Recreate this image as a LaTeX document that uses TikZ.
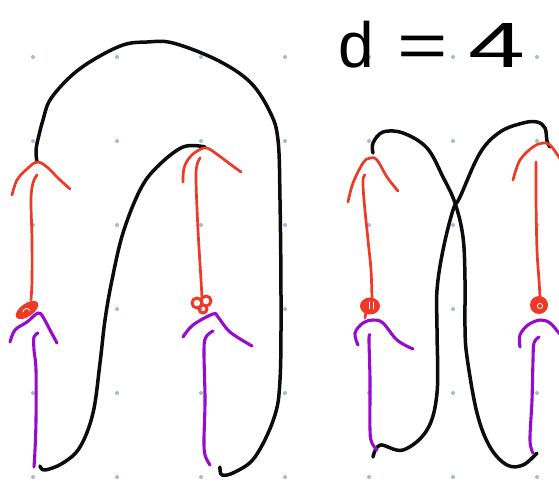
\documentclass[tikz,border=0pt]{standalone}
\usepackage{graphicx}
\usepackage{fontspec}
\setmainfont{Liberation Sans}
\definecolor{ink}{RGB}{12,12,12}
\definecolor{redink}{RGB}{236,58,38}
\definecolor{purpink}{RGB}{150,12,205}
\definecolor{dotc}{RGB}{168,184,216}
\begin{document}
\begin{tikzpicture}[x=1pt,y=-1pt,line cap=round,line join=round,
  blk/.style={draw=ink,line width=3.5pt},
  redl/.style={draw=redink,line width=2.7pt},
  purl/.style={draw=purpink,line width=3.1pt},
  sm/.style={smooth,tension=0.6}]
\useasboundingbox (0,0) rectangle (559,483);
\fill[white] (0,0) rectangle (559,483);
% grid dots
\foreach \x in {33,117,...,537}
  \foreach \y in {57,141,...,477}
    \fill[dotc] (\x,\y) circle (2pt);
% ---------- left figure: black arcs ----------
\draw[blk] plot[sm] coordinates {(37,162) (36,150) (39,135) (43,120) (50,100) (70,77) (93,60) (123,45) (147,42) (173,43) (217,60) (250,82) (270,112) (278,140) (280,200) (281,300) (280,380) (274,418) (255,457) (235,472) (222,475) (220,467)};
\draw[blk] plot[sm] coordinates {(40,466) (45,470) (63,463) (80,447) (93,413) (100,363) (105,320) (112,280) (123,233) (140,190) (157,167) (183,147) (205,147)};
% red arrows left
\draw[redl] plot[sm] coordinates {(12,195) (17,180) (27,169) (37,162) (47,167) (58,178) (70,189)};
\draw[redl] plot[sm] coordinates {(37,175) (33,183) (31,200) (32,240) (32,280) (31,300)};
\fill[redink,rotate around={35:(27,310)}] (27,310) ellipse (13pt and 6.5pt);
\draw[white,line width=0.8pt] (23,312) arc (180:20:3.5pt);
\draw[redl,line width=3pt] (197,303) circle (5pt) (206,301) circle (5pt) (203,309) circle (4pt);
\draw[redl] plot[sm] coordinates {(183,182) (184,168) (190,157) (199,150) (207,148) (218,155) (230,164) (241,172)};
\draw[redl] plot[sm] coordinates {(200,158) (197,165) (196,180) (198,230) (201,280) (202,298)};
% purple arrows left
\draw[purl] plot[sm] coordinates {(10,342) (15,330) (27,322) (38,313) (43,317) (50,330) (57,343)};
\draw[purl] plot[sm] coordinates {(38,333) (34,337) (34,350) (36,370) (36,420) (35,450) (34,467)};
\draw[purl] plot[sm] coordinates {(183,337) (193,325) (213,314) (218,317) (230,332) (252,346)};
\draw[purl] plot[sm] coordinates {(213,331) (206,337) (204,350) (205,400) (204,440) (205,455) (210,465)};
% ---------- right figure: black arcs ----------
\draw[blk] plot[sm] coordinates {(373,153) (373,143) (383,132) (403,133) (427,148) (443,177) (455,203) (463,237) (465,280) (465,327) (467,357) (477,413) (490,447) (507,465) (523,465) (537,453)};
\draw[blk] plot[sm] coordinates {(550,147) (547,141) (545,128) (537,122) (523,123) (500,132) (480,153) (460,197) (453,210) (443,250) (437,290) (437,330) (437,393) (427,430) (403,450) (380,445) (373,457)};
% red arrows right
\draw[redl] plot[sm] coordinates {(348,202) (353,183) (363,163) (370,158) (377,160) (387,177) (398,191)};
\draw[redl] plot[sm] coordinates {(365,175) (363,180) (364,200) (368,240) (371,270) (372,300)};
\fill[redink] (370,306) ellipse (10pt and 8.5pt);
\draw[redl] (366,312) -- (365,318);
\draw[white,line width=0.8pt] (369,302) -- (369,309) (373,302) -- (373,309);
\draw[redl] plot[sm] coordinates {(513,180) (520,160) (533,147) (543,143) (550,145) (559,157) (566,168)};
\draw[redl] plot[sm] coordinates {(536,162) (536,200) (537,250) (539,280) (540,297)};
\fill[redink] (539,305) ellipse (9pt and 9pt);
\draw[white,line width=0.8pt] (540,306) circle (2.6pt);
% purple arrows right
\draw[purl] plot[sm] coordinates {(358,345) (355,333) (363,323) (373,320) (383,323) (397,340) (413,349)};
\draw[purl] plot[sm] coordinates {(370,335) (369,340) (370,380) (370,430) (372,443) (377,450)};
\draw[purl] plot[sm] coordinates {(520,347) (520,335) (528,325) (540,320) (550,323) (559,333) (566,340)};
\draw[purl] plot[sm] coordinates {(539,337) (534,343) (533,360) (532,400) (530,440) (533,453)};
% label
\node[anchor=base west,inner sep=0pt,font=\fontsize{64}{64}\selectfont] (lab) at (338,67) {d\hspace{24pt}\scalebox{1.35}[1]{=}\hspace{20pt}\scalebox{1.6}[1]{4}};
\end{tikzpicture}
\end{document}
